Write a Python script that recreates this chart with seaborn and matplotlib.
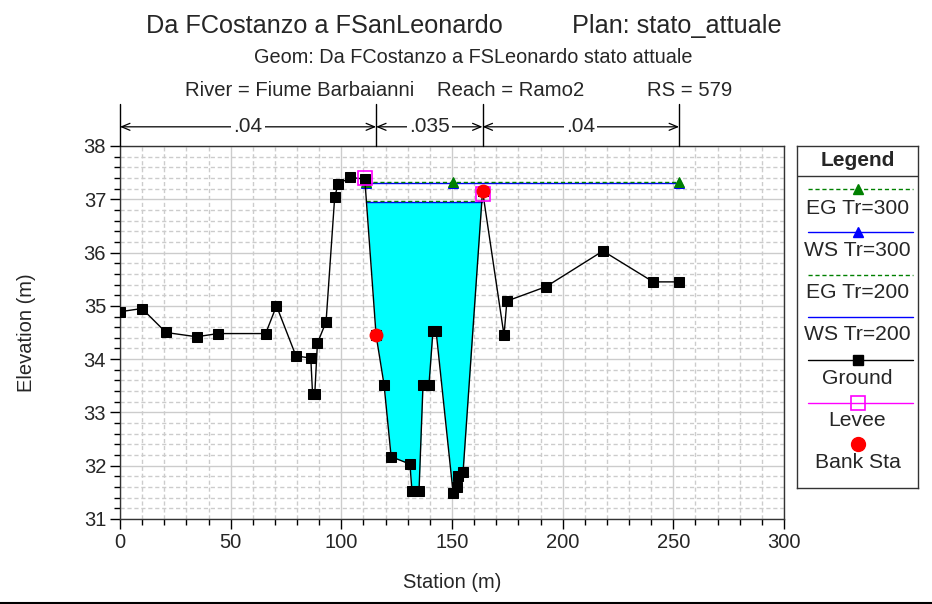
import numpy as np
import matplotlib
matplotlib.use("Agg")
from matplotlib import pyplot as plt
from matplotlib import font_manager
from matplotlib.lines import Line2D
from matplotlib.ticker import MultipleLocator
import seaborn as sns

# cross section RS 579
ground_sta = [0.0, 9.9, 20.8, 34.6, 44.3, 65.8, 70.7, 79.5, 86.2, 87.0, 88.0, 89.2, 93.1, 97.0,
              98.5, 103.9, 110.6, 115.7, 119.3, 122.5, 131.0, 131.9, 135.1, 136.9, 139.6, 141.4,
              142.8, 150.5, 152.3, 152.8, 155.0, 163.8, 173.5, 174.8, 192.5, 218.2, 240.9, 252.6]
ground_elev = [34.89, 34.95, 34.50, 34.42, 34.48, 34.48, 35.00, 34.06, 34.02, 33.35, 33.35, 34.30,
               34.70, 37.04, 37.28, 37.41, 37.38, 34.45, 33.52, 32.17, 32.03, 31.53, 31.53, 33.52,
               33.52, 34.53, 34.53, 31.49, 31.60, 31.81, 31.88, 37.16, 34.45, 35.09, 35.36, 36.03,
               35.45, 35.45]

levee_sta = [110.6, 163.8]
levee_elev = [37.40, 37.09]

bank_sta = [115.7, 163.8]
bank_elev = [34.45, 37.16]

ws300_sta = [111.2, 150.3, 252.6]
ws300_elev = [37.30, 37.30, 37.30]
eg300_sta = [111.2, 150.3, 252.6]
eg300_elev = [37.325, 37.325, 37.325]
ws200_sta = [111.3, 163.5]
ws200_elev = [36.955, 36.955]
eg200_sta = [111.3, 163.5]
eg200_elev = [36.975, 36.975]

n_breaks = [0.0, 115.7, 163.8, 252.6]
n_values = [".04", ".035", ".04"]

legend_labels = ["EG Tr=300", "WS Tr=300", "EG Tr=200", "WS Tr=200", "Ground", "Levee", "Bank Sta"]

sns.set_style("ticks")
try:
    font_manager.findfont("Liberation Sans Narrow", fallback_to_default=False)
    family, k = "Liberation Sans Narrow", 1 / 0.82
except ValueError:
    family, k = "Liberation Sans", 1.0
plt.rcParams["font.family"] = [family, "DejaVu Sans"]

W, H = 932, 604
fig = plt.figure(figsize=(W / 100, H / 100), dpi=100)


def fx(px):
    return px / W


def fy(py):
    return 1 - py / H


ax = fig.add_axes([fx(120), fy(519), (784 - 120) / W, (519 - 146) / H])

styles = {
    "EG Tr=300": dict(color="#008000", ls=(0, (3, 2)), lw=1, marker="^", ms=7, mec="#008000"),
    "WS Tr=300": dict(color="#0000ff", ls="-", lw=1, marker="^", ms=7, mec="#0000ff"),
    "EG Tr=200": dict(color="#008000", ls=(0, (3, 2)), lw=1),
    "WS Tr=200": dict(color="#0000ff", ls="-", lw=1),
    "Ground": dict(color="black", ls="-", lw=1, marker="s", ms=7.5, mec="black"),
    "Levee": dict(color="#ff00ff", ls="-", lw=1, marker="s", ms=9.5, mfc="none", mec="#ff00ff", mew=1.2),
    "Bank Sta": dict(color="red", ls="none", marker="o", ms=10, mec="red"),
}

# water below WS Tr=200
xs = np.linspace(ws200_sta[0], ws200_sta[-1], 800)
gs = np.interp(xs, ground_sta, ground_elev)
ax.fill_between(xs, gs, ws200_elev[0], where=gs < ws200_elev[0], color="#00ffff", lw=0, zorder=2)

sns.lineplot(x=ws200_sta, y=ws200_elev, estimator=None, sort=False, ax=ax, zorder=3, **styles["WS Tr=200"])
sns.lineplot(x=eg200_sta, y=eg200_elev, estimator=None, sort=False, ax=ax, zorder=3, **styles["EG Tr=200"])
sns.lineplot(x=ws300_sta, y=ws300_elev, estimator=None, sort=False, ax=ax, zorder=3, **styles["WS Tr=300"])
sns.lineplot(x=eg300_sta, y=eg300_elev, estimator=None, sort=False, ax=ax, zorder=3, **styles["EG Tr=300"])
sns.lineplot(x=ground_sta, y=ground_elev, estimator=None, sort=False, ax=ax, zorder=4, **styles["Ground"])
lev = dict(styles["Levee"], ls="none")
sns.lineplot(x=levee_sta, y=levee_elev, estimator=None, sort=False, ax=ax, zorder=5, **lev)
sns.scatterplot(x=bank_sta, y=bank_elev, color="red", s=100, edgecolor="red", linewidth=0, ax=ax, zorder=6)

ax.set_xlim(0, 300)
ax.set_ylim(31, 38)
ax.xaxis.set_major_locator(MultipleLocator(50))
ax.xaxis.set_minor_locator(MultipleLocator(10))
ax.yaxis.set_major_locator(MultipleLocator(1))
ax.yaxis.set_minor_locator(MultipleLocator(0.2))
ax.grid(which="major", color="#cccccc", lw=1, ls="-", zorder=0)
ax.grid(which="minor", color="#cccccc", lw=1, ls=(0, (3, 2)), zorder=0)
ax.set_axisbelow(True)
ax.tick_params(which="major", direction="out", length=7, width=1, color="black",
               labelsize=14.5 * k, pad=3)
ax.tick_params(which="minor", direction="out", length=4, width=1, color="black")
for sp in ax.spines.values():
    sp.set_color("#333333")
    sp.set_linewidth(1)
ax.set_xlabel("Station (m)", fontsize=14.5 * k, labelpad=15)
ax.set_ylabel("Elevation (m)", fontsize=14.5 * k, labelpad=34)

# Manning's n bar above the plot
y_top = 38.79
y_arr = 38.36
for b in n_breaks:
    ax.plot([b, b], [38.0, y_top], color="black", lw=1, clip_on=False, zorder=5)
for i, lab in enumerate(n_values):
    x0, x1 = n_breaks[i], n_breaks[i + 1]
    ax.annotate("", xy=(x1, y_arr), xytext=(x0, y_arr), annotation_clip=False,
                arrowprops=dict(arrowstyle="<->,head_length=0.6,head_width=0.25", color="black",
                                lw=0.9, shrinkA=0, shrinkB=0))
    ax.text((x0 + x1) / 2, y_arr, lab, ha="center", va="center", fontsize=15 * k, clip_on=False,
            bbox=dict(facecolor="white", edgecolor="none", pad=1.5))

# titles
fig.text(fx(146), fy(33), "Da FCostanzo a FSanLeonardo", fontsize=18.2 * k, va="baseline")
fig.text(fx(572), fy(33), "Plan: stato_attuale", fontsize=18.2 * k, va="baseline")
fig.text(fx(473), fy(63), "Geom: Da FCostanzo a FSLeonardo stato attuale", fontsize=14.3 * k,
         ha="center", va="baseline")
fig.text(fx(185), fy(96), "River = Fiume Barbaianni", fontsize=14.6 * k, va="baseline")
fig.text(fx(437), fy(96), "Reach = Ramo2", fontsize=14.6 * k, va="baseline")
fig.text(fx(647), fy(96), "RS = 579", fontsize=14.6 * k, va="baseline")

# legend box
lg = fig.add_axes([fx(797), fy(488), 121 / W, 342 / H])
lg.set_xlim(0, 121)
lg.set_ylim(342, 0)
lg.set_xticks([])
lg.set_yticks([])
for sp in lg.spines.values():
    sp.set_color("#333333")
    sp.set_linewidth(1)
lg.text(60.5, 15, "Legend", ha="center", va="center", fontsize=15 * k, fontweight="bold")
lg.plot([0, 121], [30, 30], color="#333333", lw=1)
line_y = [43, 86, 129, 171, 214, 257, 298]
text_y = [63, 104, 147, 189, 232, 275, 317]
for lab, ly, ty in zip(legend_labels, line_y, text_y):
    st = styles[lab]
    if lab == "Bank Sta":
        lg.plot([60.5], [ly], **st)
    else:
        lg.plot([11, 116], [ly, ly], **{kk: v for kk, v in st.items() if kk != "marker"})
        if "marker" in st:
            lg.plot([60.5], [ly], **dict(st, ls="none"))
    lg.text(60.5, ty, lab, ha="center", va="center", fontsize=15.2 * k)

fig.add_artist(Line2D([0, 1], [fy(603), fy(603)], color="black", lw=1.5))

fig.savefig("out.png", dpi=100)
